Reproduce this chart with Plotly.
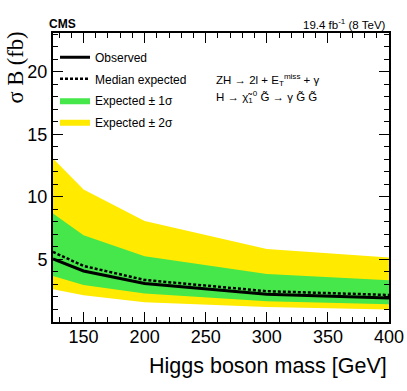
import plotly.graph_objects as go

# Higgs mass points [GeV]
mass = [125, 150, 200, 300, 400]

# 95% CL limits on sigma*B [fb]
observed = [5.04, 4.08, 3.07, 2.22, 1.92]
expected = [5.60, 4.48, 3.36, 2.46, 2.16]
exp_1s_up = [8.67, 6.94, 5.26, 3.84, 3.34]
exp_1s_dn = [3.68, 2.96, 2.27, 1.66, 1.42]
exp_2s_up = [13.07, 10.60, 8.08, 5.84, 5.15]
exp_2s_dn = [2.62, 2.14, 1.58, 1.20, 0.99]

YELLOW = "#ffea00"
GREEN = "#45e74a"
FONT = "Liberation Sans, Arial, sans-serif"

fig = go.Figure()

# bands as closed polygons
band_x = mass + mass[::-1]
fig.add_trace(go.Scatter(
    x=band_x, y=exp_2s_up + exp_2s_dn[::-1],
    fill="toself", fillcolor=YELLOW, mode="lines", line=dict(width=0, color=YELLOW),
    name="Expected ± 2σ", legendrank=4, legendgroup="d"))
fig.add_trace(go.Scatter(
    x=band_x, y=exp_1s_up + exp_1s_dn[::-1],
    fill="toself", fillcolor=GREEN, mode="lines", line=dict(width=0, color=GREEN),
    name="Expected ± 1σ", legendrank=3, legendgroup="c"))
fig.add_trace(go.Scatter(
    x=mass, y=expected, mode="lines",
    line=dict(color="black", width=2.5, dash="3px,2px"),
    name="Median expected", legendrank=2, legendgroup="b"))
fig.add_trace(go.Scatter(
    x=mass, y=observed, mode="lines",
    line=dict(color="black", width=3),
    name="Observed", legendrank=1, legendgroup="a"))

axis_common = dict(
    showline=True, linecolor="black", linewidth=2, mirror="ticks",
    ticks="inside", ticklen=10, tickwidth=1, tickcolor="black",
    showgrid=False, zeroline=False, automargin=False,
    tickfont=dict(family=FONT, size=18, color="black"),
)

fig.update_xaxes(range=[125, 400], tickvals=[150, 200, 250, 300, 350, 400],
                 ticklabelstandoff=-3,
                 minor=dict(ticks="inside", ticklen=5, dtick=10, tick0=0, tickcolor="black"),
                 **axis_common)
fig.update_yaxes(range=[0, 23.1], tickvals=[5, 10, 15, 20],
                 minor=dict(ticks="inside", ticklen=5, dtick=1, tick0=0, tickcolor="black"),
                 **axis_common)

ann = [
    dict(text="σ B (fb)", x=-0.113, y=1.012, xref="paper", yref="paper",
         xanchor="center", yanchor="top", textangle=-90, showarrow=False,
         font=dict(family="Liberation Serif, serif", size=22.5, color="black")),
    dict(text="Higgs boson mass [GeV]", x=1.0, y=-0.152, xref="paper", yref="paper",
         xanchor="right", yanchor="middle", showarrow=False,
         font=dict(family=FONT, size=21.5, color="black")),
    dict(text="<b>CMS</b>", x=-0.018, y=1.031, xref="paper", yref="paper",
         xanchor="left", yanchor="middle", showarrow=False,
         font=dict(family=FONT, size=12, color="black")),
    dict(text="19.4 fb<sup>-1</sup> (8 TeV)", x=0.997, y=1.031, xref="paper", yref="paper",
         xanchor="right", yanchor="middle", showarrow=False,
         font=dict(family=FONT, size=11.5, color="black")),
    dict(text="ZH → 2l + E<sub>T</sub><sup>miss</sup> + γ", x=0.478, y=0.837,
         xref="paper", yref="paper", xanchor="left", yanchor="middle", showarrow=False,
         font=dict(family=FONT, size=11.5, color="black")),
    dict(text="H → χ̃<sub>1</sub><sup>0</sup> G̃ → γ G̃ G̃", x=0.478, y=0.777,
         xref="paper", yref="paper", xanchor="left", yanchor="middle", showarrow=False,
         font=dict(family=FONT, size=11.5, color="black")),
]

fig.update_layout(
    width=407, height=391,
    margin=dict(l=53, r=18, t=33, b=69),
    paper_bgcolor="white", plot_bgcolor="white",
    showlegend=True,
    legend=dict(x=0.006, y=0.966, xanchor="left", yanchor="top",
                bgcolor="rgba(0,0,0,0)", itemwidth=30, tracegroupgap=2.5,
                font=dict(family=FONT, size=12, color="black")),
    annotations=ann,
)

# drop the default page margin so the figure sits at the window corner
fig.write_html("out.html", config={"displayModeBar": False},
               post_script="document.body.style.margin='0';")
